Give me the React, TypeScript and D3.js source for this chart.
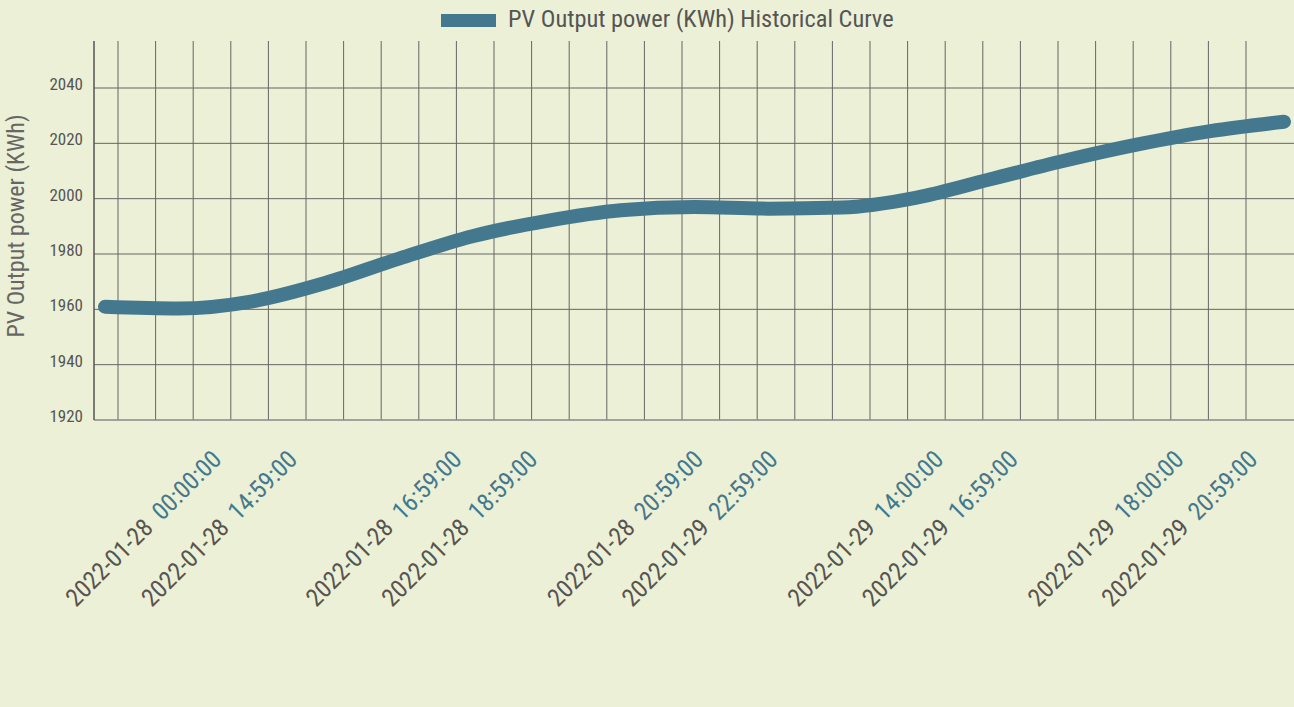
import React from 'react';
import * as d3 from 'd3';

// PV output readings (KWh), evenly spaced samples along the curve
const outputValues = [1960.9, 1960.3, 1962.9, 1969.6, 1978.4, 1986.5, 1992.0, 1995.8, 1997.0, 1996.4, 1996.8, 2000.3, 2006.9, 2013.6, 2019.5, 2024.4, 2027.8];

// axis labels: date part + time part, and where they sit on the sample axis
const labelDates = ['2022-01-28', '2022-01-28', '2022-01-28', '2022-01-28', '2022-01-28', '2022-01-29', '2022-01-29', '2022-01-29', '2022-01-29', '2022-01-29'];
const labelTimes = ['00:00:00', '14:59:00', '16:59:00', '18:59:00', '20:59:00', '22:59:00', '14:00:00', '16:59:00', '18:00:00', '20:59:00'];
const labelAt = [1.6, 2.63, 4.86, 5.89, 8.14, 9.15, 11.4, 12.41, 14.66, 15.66];

const yTicks = [1920, 1940, 1960, 1980, 2000, 2020, 2040];
const gridCount = 31;

const seriesName = 'PV Output power (KWh) Historical Curve';
const yTitle = 'PV Output power (KWh)';

const W = 1294;
const H = 707;
const FONT = "'Roboto Condensed', 'Liberation Sans Narrow', 'DejaVu Sans Condensed', Roboto, sans-serif";
const LINE_COLOR = '#44788e';

export default function App() {
  const left = 94;
  const top = 41;
  const bottom = 420;

  const x = d3.scaleLinear().domain([0, outputValues.length - 1]).range([105, 1284]);
  const gridX = d3.scaleLinear().domain([0, gridCount - 1]).range([118, 1246]);
  const y = d3.scaleLinear().domain([1920, 2040]).range([bottom, 88]);

  const line = d3.line<number>()
    .x((d, i) => x(i))
    .y((d) => y(d))
    .curve(d3.curveMonotoneX);

  return (
    <svg width={W} height={H} style={{ position: 'absolute', left: 0, top: 0, fontFamily: FONT }}>
      <rect width={W} height={H} fill="#ecf0d6" />

      {/* legend */}
      <rect x={441} y={14} width={55} height={13} fill={LINE_COLOR} />
      <text x={508} y={27} fontSize={24.4} fill="#555">{seriesName}</text>

      {/* grid */}
      {d3.range(gridCount).map((i) => (
        <line key={'v' + i} x1={gridX(i)} x2={gridX(i)} y1={top} y2={bottom} stroke="#666" strokeWidth={1} />
      ))}
      {yTicks.slice(1).map((t) => (
        <line key={'h' + t} x1={left} x2={W} y1={y(t)} y2={y(t)} stroke="#666" strokeWidth={1} />
      ))}
      <line x1={left} x2={W} y1={bottom} y2={bottom} stroke="#888" strokeWidth={1.5} />
      <line x1={left} x2={left} y1={top} y2={bottom} stroke="#555" strokeWidth={1.5} />

      {/* y ticks */}
      {yTicks.map((t) => (
        <text key={'yt' + t} x={83} y={y(t) - 4} dy="0.35em" textAnchor="end" fontSize={17} fill="#555">{t}</text>
      ))}
      <text transform={`translate(24, 226) rotate(-90)`} textAnchor="middle" fontSize={24} fill="#666">{yTitle}</text>

      {/* curve */}
      <path d={line(outputValues) || ''} fill="none" stroke={LINE_COLOR} strokeWidth={14} strokeLinecap="round" strokeLinejoin="round" />

      {/* x labels */}
      {labelAt.map((p, i) => (
        <text key={'xl' + i} transform={`translate(${x(p)}, 461) rotate(-45)`} textAnchor="end" fontSize={25}>
          <tspan fill="#555">{labelDates[i]}</tspan>
          <tspan fill={LINE_COLOR} dx={11}>{labelTimes[i]}</tspan>
        </text>
      ))}
    </svg>
  );
}
